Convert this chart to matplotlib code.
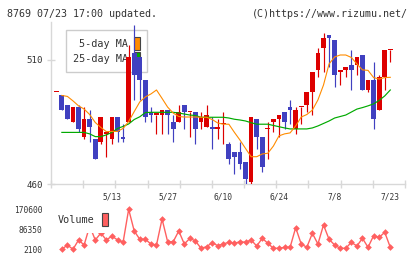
import numpy as np
import pandas as pd
import matplotlib
matplotlib.use('Agg')
import matplotlib.pyplot as plt
from matplotlib.patches import Patch

# trading days (Tokyo), 2024-04-24 .. 2024-07-23
dates = pd.bdate_range('2024-04-24', '2024-07-23', freq='C',
                       holidays=['2024-04-29', '2024-05-03', '2024-05-06', '2024-07-15'])

opens = [497, 496, 492, 485, 491, 479, 486, 478, 477, 480,
         478, 487, 479, 485, 513, 511, 502, 489, 488, 488,
         490, 485, 485, 492, 489, 489, 485, 483, 483, 482,
         484, 476, 473, 473, 469, 461, 486, 479, 482, 485,
         486, 489, 491, 482, 491, 492, 497, 506, 515, 520,
         518, 505, 506, 508, 508, 512, 498, 502, 490, 503, 514]
highs = [497, 496, 492, 491, 492, 491, 490, 478, 487, 481,
         487, 487, 484, 516, 524, 511, 502, 491, 488, 490,
         490, 488, 492, 492, 489, 489, 489, 492, 487, 486,
         489, 477, 473, 477, 469, 487, 486, 479, 485, 486,
         488, 489, 494, 491, 491, 497, 505, 515, 521, 520,
         518, 506, 507, 514, 511, 512, 502, 509, 504, 514, 514]
lows = [497, 490, 486, 485, 481, 478, 477, 470, 476, 471,
        476, 477, 477, 485, 494, 494, 485, 485, 480, 480,
        480, 477, 485, 482, 479, 476, 482, 483, 474, 478,
        476, 468, 464, 466, 460, 460, 474, 465, 470, 481,
        479, 482, 484, 480, 484, 489, 488, 503, 505, 507,
        499, 500, 503, 498, 504, 498, 497, 482, 490, 498, 509]
closes = [497, 490, 486, 491, 482, 486, 483, 470, 487, 481,
          487, 481, 478, 511, 504, 502, 487, 488, 488, 490,
          488, 482, 489, 489, 489, 482, 487, 488, 482, 483,
          484, 470, 471, 468, 462, 487, 479, 467, 482, 486,
          488, 485, 490, 490, 491, 497, 505, 513, 519, 519,
          504, 506, 507, 506, 511, 498, 502, 486, 503, 514, 514]

ma5 = [np.nan, 495.7, 495.3, 493.5, 491.5, 490.2, 488.0, 484.8, 482.8, 481.1,
       481.2, 481.2, 482.4, 485.2, 489.2, 493.1, 495.1, 496.3, 497.9, 494.5,
       491.0, 488.6, 487.2, 487.0, 487.0, 487.0, 486.9, 486.9, 486.0, 484.6,
       484.1, 484.1, 480.8, 477.7, 474.3, 471.0, 471.0, 472.1, 472.4, 475.3,
       479.4, 480.2, 480.6, 483.4, 487.0, 488.0, 489.8, 493.9, 499.9, 508.4,
       511.2, 512.0, 512.0, 511.0, 508.4, 506.0, 505.8, 502.9, 502.3, 502.9, 503.0]
ma25 = [np.nan, 480.8, 480.8, 480.8, 480.8, 480.8, 480.2, 479.1, 479.1, 479.8,
        480.8, 482.4, 483.2, 484.2, 486.0, 487.1, 488.8, 488.9, 488.9, 488.9,
        488.9, 488.9, 488.6, 488.2, 487.8, 487.6, 486.9, 486.9, 486.9, 486.9,
        486.9, 486.6, 486.1, 485.8, 485.4, 484.7, 484.1, 484.1, 484.1, 483.6,
        483.1, 482.6, 482.2, 482.2, 482.2, 482.2, 482.6, 483.4, 484.4, 485.4,
        486.6, 487.2, 487.8, 489.0, 490.2, 490.8, 491.5, 492.3, 493.7, 495.5, 497.9]

volume = [np.nan, 2100, 20200, 2100, 41300, 20200, 100000, 41300, 70000, 41300,
          58000, 41300, 31600, 170600, 79200, 44200, 44200, 24400, 20200, 129700,
          34100, 34100, 79200, 24400, 48400, 37100, 6300, 13100, 29900, 17300,
          24400, 31600, 27400, 34100, 31600, 41300, 16000, 48400, 27400, 6300,
          6300, 10500, 10500, 93100, 24400, 10500, 69500, 24400, 104500, 44200,
          20200, 6300, 6300, 31600, 16000, 48400, 10500, 59400, 52600, 73700, 10500]

label_days = ['5/13', '5/27', '6/10', '6/24', '7/8', '7/23']
price_ticks = [460, 510]
vol_ticks = [2100, 86350, 170600]

RED = '#dd0000'
BLUE = '#4040c0'
ORANGE = '#ff8c00'
GREEN = '#00aa00'
VOLC = '#ff6060'
GRID = '#d8d8d8'
FONT = 'DejaVu Sans Mono'

x = np.arange(len(dates))
o = np.array(opens, float)
c = np.array(closes, float)
up = c >= o
cols = np.where(up, RED, BLUE)
xlim = (-0.95, 62.64)

fig = plt.figure(figsize=(4.2, 2.59), dpi=100)
ax = fig.add_axes([51 / 420, 1 - 184 / 259, 354 / 420, 162 / 259])
axv = fig.add_axes([51 / 420, 1 - 254 / 259, 354 / 420, 49 / 259])

# candles
ax.vlines(x, lows, highs, colors=cols, lw=0.85, zorder=3)
body_h = np.maximum(np.abs(c - o), 0.45)
ax.bar(x, body_h, bottom=np.minimum(o, c), width=0.85, color=cols, lw=0, zorder=3)

ax.plot(x, ma25, color=GREEN, lw=0.85, zorder=4)
ax.plot(x, ma5, color=ORANGE, lw=0.8, zorder=4)

ax.set_xlim(xlim)
ax.set_ylim(460, 525.3)
for s in ['top', 'right']:
    ax.spines[s].set_visible(False)
for s in ['left', 'bottom']:
    ax.spines[s].set_color(GRID)
    ax.spines[s].set_linewidth(1.0)
ax.set_xticks(np.linspace(xlim[0], xlim[1], 12))
ax.set_xticklabels([])
ax.set_yticks(price_ticks)
ax.set_yticklabels([str(t) for t in price_ticks], fontfamily=FONT, fontsize=6.6, color='#333333')
ax.tick_params(axis='both', direction='inout', length=6, width=1.0, color=GRID, pad=3)

leg = ax.legend(handles=[Patch(fc=ORANGE, ec='#444444', lw=0.8), Patch(fc=GREEN, ec='#444444', lw=0.8)],
                labels=['5-day MA', '25-day MA'], loc='upper left',
                bbox_to_anchor=(0.0415, 0.9506), borderaxespad=0, markerfirst=False,
                fancybox=False, edgecolor='#cccccc', framealpha=1, handlelength=0.6,
                handleheight=1.6, handletextpad=0.6, borderpad=0.68, labelspacing=0.2,
                prop={'family': FONT, 'size': 7.3})
leg.get_frame().set_linewidth(1.0)
for t in leg.get_texts():
    t.set_color('#333333')
leg.set_zorder(2)

# volume
axv.plot(x, volume, color=VOLC, lw=1.0, marker='D', ms=3.4, mew=0, zorder=2)
axv.set_xlim(xlim)
axv.set_ylim(-17700, 188700)
for s in axv.spines.values():
    s.set_visible(False)
axv.set_yticks(vol_ticks)
axv.set_yticklabels([str(t) for t in vol_ticks], fontfamily=FONT, fontsize=5.7, color='#333333')
lab_pos = [i for i, d in enumerate(dates) if f'{d.month}/{d.day}' in label_days]
axv.set_xticks(lab_pos)
axv.set_xticklabels([f'{dates[i].month}/{dates[i].day}' for i in lab_pos],
                    fontfamily=FONT, fontsize=5.7, color='#333333')
axv.xaxis.tick_top()
axv.tick_params(axis='both', length=0)
axv.tick_params(axis='y', pad=6)
axv.tick_params(axis='x', pad=2.5)

vleg = axv.legend(handles=[Patch(fc=VOLC, ec='#444444', lw=0.8)], labels=['Volume'],
                  loc='upper left', bbox_to_anchor=(0.0, 0.973), borderaxespad=0,
                  markerfirst=False, fancybox=False, frameon=True, edgecolor='none',
                  facecolor='white', framealpha=1, handlelength=0.57, handleheight=1.5,
                  handletextpad=0.74, borderpad=0.7, prop={'family': FONT, 'size': 7.3})
vleg.get_texts()[0].set_color('#333333')
vleg.set_zorder(5)

fig.text(7 / 420, 1 - 17 / 259, '8769 07/23 17:00 updated.', fontfamily=FONT,
         fontsize=7.2, color='#333333', va='baseline', ha='left')
fig.text(408 / 420, 1 - 17 / 259, '(C)https://www.rizumu.net/', fontfamily=FONT,
         fontsize=7.2, color='#333333', va='baseline', ha='right')

fig.savefig('out.png', dpi=100)
